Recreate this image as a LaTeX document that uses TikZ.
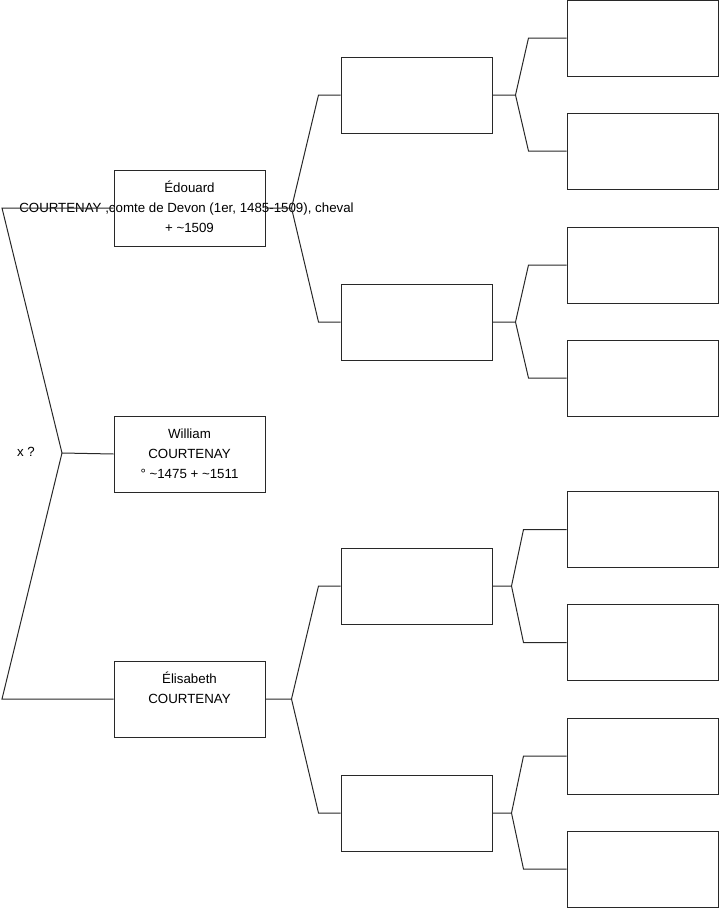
\documentclass[tikz,border=0pt]{standalone}
\usepackage{fontspec}
\setmainfont{Liberation Sans}
\definecolor{treeline}{RGB}{40,40,40}
\usetikzlibrary{positioning,calc}

\begin{document}
\begin{tikzpicture}[x=1pt, y=-1pt,
    pbox/.style={draw=treeline, line width=1pt, minimum width=151pt, minimum height=76pt, inner sep=0pt, align=center, font=\fontsize{13.3}{20}\selectfont},
    link/.style={draw=treeline, line width=1pt}]
  \useasboundingbox (0,0) rectangle (719,908);
  % Generation 1
  \node[pbox] (g1) at (189.5,208) {\raisebox{2pt}{\'Edouard}\\\raisebox{2pt}{\makebox[0pt]{COURTENAY ,comte de Devon (1er, 1485-1509), cheval\hspace{6pt}}}\\\raisebox{2pt}{+ \textasciitilde1509}};
  \node[pbox] (g2) at (189.5,454) {William\\COURTENAY\\° \textasciitilde1475 + \textasciitilde1511};
  \node[pbox] (g3) at (189.5,699) {\raisebox{2pt}{\'Elisabeth}\\\raisebox{2pt}{COURTENAY}\\\mbox{}};
  \node[font=\fontsize{13.3}{14}\selectfont] (xq) at (26,452) {x ?};
  % Generation 2
  \foreach \n/\y in {1/95, 2/322, 3/586, 4/813}
    \node[pbox] (p\n) at (416.5,\y) {};
  % Generation 3
  \foreach \n/\y in {1/38, 2/151, 3/265, 4/378, 5/529.5, 6/642.5, 7/756, 8/869}
    \node[pbox] (q\n) at (642.5,\y) {};
  % Root fork
  \coordinate (r0) at (62,453);
  \path[link] (g1.west) -- (2,208) -- (r0) -- (g2.west);
  \path[link] (r0) -- (2,699) -- (g3.west);
  % Forks to generation 2
  \foreach \a/\b/\c in {g1/p1/p2, g3/p3/p4} {
    \path[link] (\a.east) -- ++(26,0) coordinate (k\a) -- ([xshift=-22pt]\b.west) -- (\b.west);
    \path[link] (k\a) -- ([xshift=-22pt]\c.west) -- (\c.west);
  }
  % Forks to generation 3
  \foreach \a/\b/\c/\s/\g in {p1/q1/q2/23/38, p2/q3/q4/23/38, p3/q5/q6/19/43, p4/q7/q8/19/43} {
    \path[link] (\a.east) -- ++(\s,0) coordinate (k\a) -- ([xshift=-\g pt]\b.west) -- (\b.west);
    \path[link] (k\a) -- ([xshift=-\g pt]\c.west) -- (\c.west);
  }
\end{tikzpicture}
\end{document}
